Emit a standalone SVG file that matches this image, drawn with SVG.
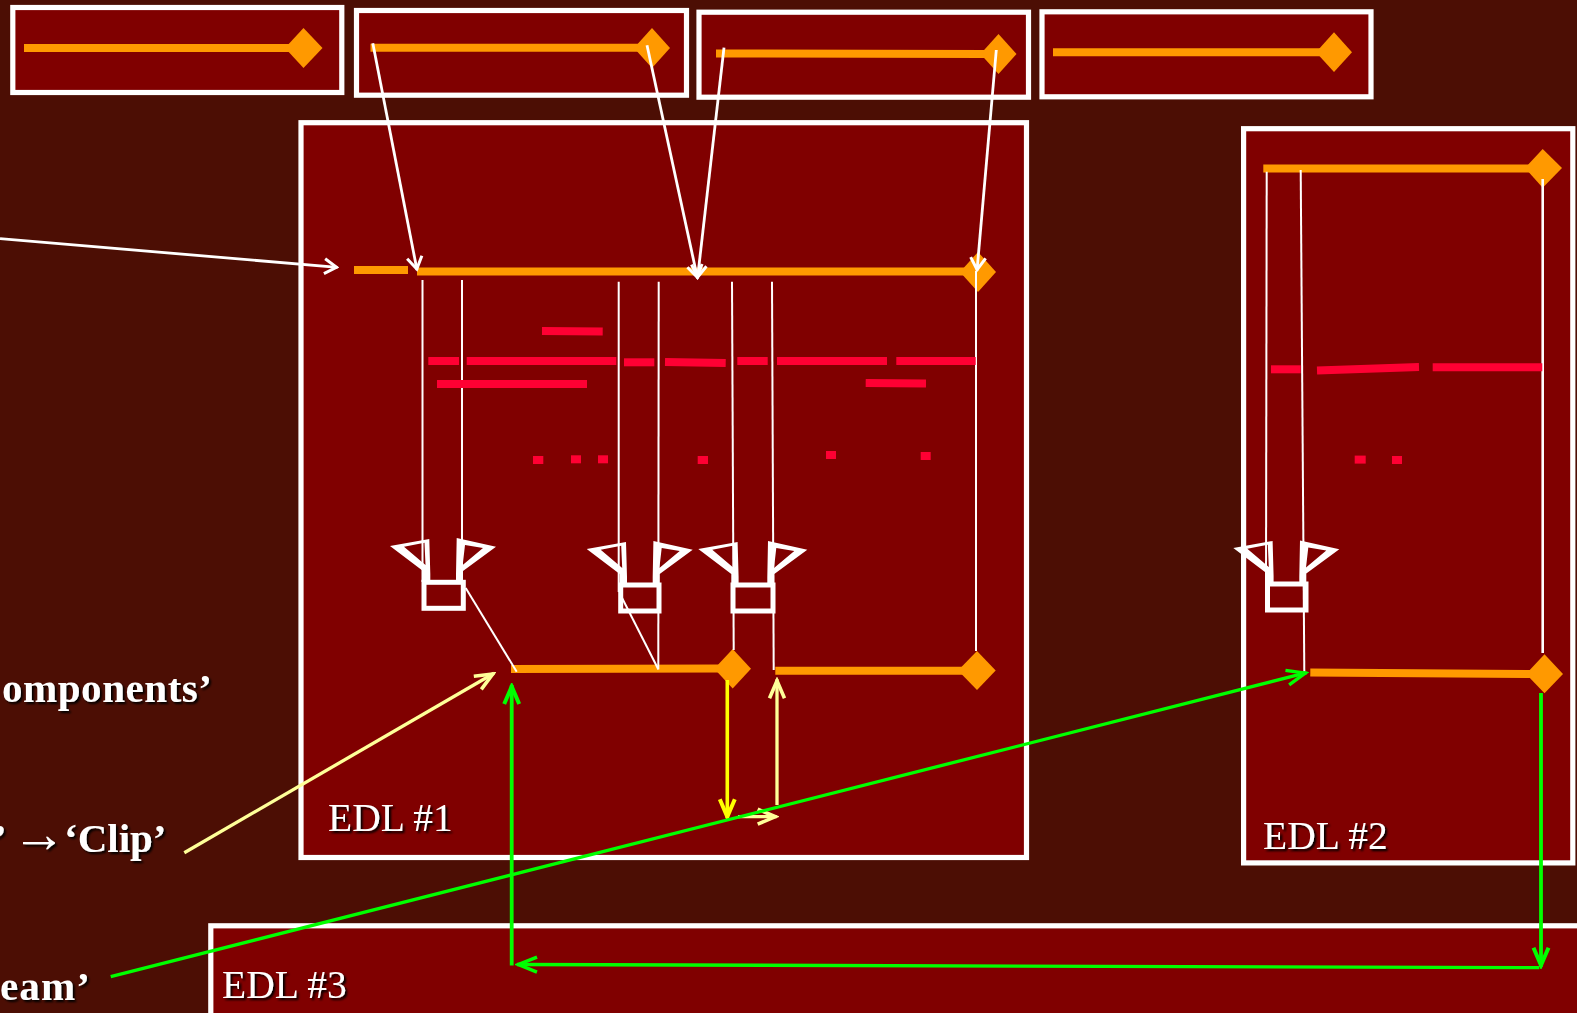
<svg xmlns="http://www.w3.org/2000/svg" width="1577" height="1013" viewBox="0 0 1577 1013">
<style>
.frame{fill:#800000;stroke:#fff;stroke-width:5.2}
.bar{fill:none;stroke:#f90;stroke-width:8}
.dia{fill:#f90}
.flag{fill:#fff;fill-rule:evenodd}
.box{fill:none;stroke:#fff;stroke-width:5}
.thin{fill:none;stroke:#fff;stroke-width:2}
.w{fill:none;stroke:#fff;stroke-width:2.8;marker-end:url(#mw)}
.g{fill:none;stroke:#0f0;stroke-width:3.8;marker-end:url(#mg)}
.gt{fill:none;stroke:#0f0;stroke-width:3.3;marker-end:url(#mg2)}
.y{fill:none;stroke:#ff0;stroke-width:3.6;marker-end:url(#my)}
.p{fill:none;stroke:#ff9;stroke-width:3.3;marker-end:url(#mp)}
.red{fill:none;stroke:#ff0033;stroke-width:8}
.sq{fill:#ff0033}
text{fill:#fff;font-family:"Liberation Serif","Times New Roman",serif;filter:url(#sh)}
.b{font-size:41px;font-weight:bold}
.l{font-size:39.5px}
</style>
<defs>
<filter id="sh" x="-10%" y="-20%" width="120%" height="140%"><feDropShadow dx="2" dy="2" stdDeviation="0.8" flood-color="#000" flood-opacity="1"/></filter>
<marker id="mw" viewBox="-16 -10 18 20" refX="0" refY="0" markerWidth="18" markerHeight="20" markerUnits="userSpaceOnUse" orient="auto"><path d="M-13,-7.5L-1,0L-13,7.5" fill="none" stroke="#fff" stroke-width="3"/></marker>
<marker id="mg" viewBox="-24 -12 26 24" refX="0" refY="0" markerWidth="26" markerHeight="24" markerUnits="userSpaceOnUse" orient="auto"><path d="M-19,-7.5L-1.5,0L-19,7.5" fill="none" stroke="#0f0" stroke-width="4"/></marker>
<marker id="mg2" viewBox="-24 -12 26 24" refX="0" refY="0" markerWidth="26" markerHeight="24" markerUnits="userSpaceOnUse" orient="auto"><path d="M-20,-7.5L-1.5,0L-20,7.5" fill="none" stroke="#0f0" stroke-width="3.4"/></marker>
<marker id="my" viewBox="-24 -12 26 24" refX="0" refY="0" markerWidth="26" markerHeight="24" markerUnits="userSpaceOnUse" orient="auto"><path d="M-19,-7.5L-1.5,0L-19,7.5" fill="none" stroke="#ff0" stroke-width="4"/></marker>
<marker id="mp" viewBox="-24 -12 26 24" refX="0" refY="0" markerWidth="26" markerHeight="24" markerUnits="userSpaceOnUse" orient="auto"><path d="M-19,-7.5L-1.5,0L-19,7.5" fill="none" stroke="#ff9" stroke-width="3.6"/></marker>
<path id="flag-left" class="flag" d="M390,546L429.3,539L430.3,574V582H423V571ZM404,546.7L424.5,542.7L425.5,565Z"/>
<path id="flag-right" class="flag" d="M496,546.7L456.7,538L456,574V582H463V571ZM483,548L465,545L462.7,565Z"/>
</defs>
<rect id="background" width="1577" height="1013" fill="#4c0e04"/>

<g id="clip-1"><rect class="frame" x="12.8" y="7.5" width="329" height="85"/><path class="bar" d="M24,48H290"/><path class="dia" d="M303.5,28L322.5,48L303.5,68L285,48Z"/></g>
<g id="clip-2"><rect class="frame" x="356.5" y="10.5" width="330" height="84.7"/><path class="bar" d="M370.5,47.7H640"/><path class="dia" d="M652,28L670,48L652,68L634,48Z"/></g>
<g id="clip-3"><rect class="frame" x="699" y="12.2" width="329.5" height="85"/><path class="bar" d="M716,53.4L985,54"/><path class="dia" d="M998.5,34L1016.5,54L998.5,74L980.5,54Z"/></g>
<g id="clip-4"><rect class="frame" x="1042" y="11.8" width="329" height="85"/><path class="bar" d="M1053,52.3H1320"/><path class="dia" d="M1334,32.3L1352,52.3L1334,72L1316,52.3Z"/></g>

<g id="edl-3"><rect class="frame" x="210.8" y="925.8" width="1400" height="200"/><text class="l" x="222" y="997.7">EDL #3</text></g>

<g id="edl-1"><rect class="frame" x="301" y="122.7" width="725.5" height="734.8"/>
<path class="bar" d="M354,270H408"/><path class="bar" d="M417,271.5H965"/><path class="dia" d="M978,252L996,272L978,292L960,272Z"/>
<path class="bar" d="M511,669L720,668.5"/><path class="dia" d="M732.7,649L751,668.7L732.7,688.4L714.3,668.7Z"/>
<path class="bar" d="M775.3,670.7H965"/><path class="dia" d="M977,651L995.7,670.5L977,690L958,670.5Z"/>
<text class="l" x="328" y="830.7">EDL #1</text></g>

<g id="edl-2"><rect class="frame" x="1243.6" y="128.7" width="329.2" height="734.2"/>
<path class="bar" d="M1263.3,168.5H1530"/><path class="dia" d="M1542.7,149L1562,168L1542.7,187.7L1525,168Z"/>
<path class="bar" d="M1310.3,672.5L1530,674"/><path class="dia" d="M1544.5,654.3L1563,674L1544.5,693.3L1526,674Z"/>
<text class="l" x="1263" y="849.3">EDL #2</text></g>

<g id="connectors">
<path class="thin" d="M422.5,280V582"/><path class="thin" d="M462,280V582"/>
<path class="thin" d="M465.7,588L516.7,671.7"/>
<path class="thin" d="M618.7,281.7V592"/><path class="thin" d="M658.7,281.7L658.3,669.5"/>
<path class="thin" d="M621.7,597.3L658.3,669.3"/>
<path class="thin" d="M732,281.7L733.7,650"/><path class="thin" d="M772,281.7L773.7,670"/>
<path class="thin" d="M976,271V651"/>
<path class="thin" d="M1266.7,171.7L1266,585"/><path class="thin" d="M1300.7,170L1304.3,671.7"/>
<path class="thin" style="stroke-width:2.6" d="M1542.7,179V653"/>
<path class="w" d="M0,238.7L337.5,267.3"/>
<path class="w" d="M372.8,43.3L417,270"/>
<path class="w" d="M647,45.3L697.5,278.3"/>
<path class="w" d="M724,47.7L697.5,278.3"/>
<path class="w" d="M996.3,50L977,270.7"/>
<path class="p" d="M184.3,852.7L494,673.3"/>
<path class="p" d="M777,805V679.3"/>
<path class="p" d="M738,816.7H776.7"/>
<path class="y" d="M727.3,680V818.3"/>
<path class="g" d="M1541,693V966.7"/>
<path class="gt" d="M1539.3,967.7L517,964.5"/>
<path class="g" d="M511.7,965.5V685"/>
<path class="gt" d="M110.7,976.7L1306.7,672.7"/>
</g>

<g id="funnel-1"><use href="#flag-left"/><use href="#flag-right"/><rect class="box" x="424" y="582.3" width="39.3" height="26"/></g>
<g id="funnel-2"><use href="#flag-left" x="196.7" y="3"/><use href="#flag-right" x="196.7" y="3"/><rect class="box" x="620.7" y="585" width="38.3" height="26"/></g>
<g id="funnel-3"><use href="#flag-left" x="308.3" y="3"/><use href="#flag-right" x="311.3" y="3"/><rect class="box" x="733" y="585" width="40" height="26"/></g>
<g id="funnel-4"><use href="#flag-left" x="843.3" y="2"/><use href="#flag-right" x="843.3" y="2.5"/><rect class="box" x="1267.5" y="584" width="38.5" height="26"/></g>

<g id="red-segments">
<path class="red" d="M542,331L602.7,331.4"/>
<path class="red" d="M428.3,361H459"/><path class="red" d="M466.7,361H616.3"/>
<path class="red" d="M624,362.3H654.3"/><path class="red" d="M665,362L725.7,363"/>
<path class="red" d="M737.3,361H767.7"/><path class="red" d="M777,361H887"/><path class="red" d="M896.3,361H975.7"/>
<path class="red" d="M437,384H587"/><path class="red" d="M865.7,383L926,383.4"/>
<path class="red" d="M1271,369.3H1300.7"/><path class="red" d="M1317,370.5L1419,367"/><path class="red" d="M1432.7,367.3H1542.3"/>
<rect class="sq" x="533" y="456" width="10.3" height="8"/><rect class="sq" x="571" y="455.3" width="10" height="8"/><rect class="sq" x="598" y="455.3" width="10" height="8"/><rect class="sq" x="697.7" y="456" width="10.3" height="8"/><rect class="sq" x="826" y="451" width="10" height="8"/><rect class="sq" x="920.7" y="452" width="10" height="8"/>
<rect class="sq" x="1354.7" y="455.6" width="11" height="8"/><rect class="sq" x="1392" y="456" width="10" height="8"/>
</g>

<g id="captions">
<text class="b" x="2" y="701.7" textLength="210" lengthAdjust="spacing">omponents’</text>
<text class="b" y="851.7"><tspan x="-7">’</tspan><tspan x="12" font-size="54" font-weight="normal">→</tspan><tspan x="64">‘Clip’</tspan></text>
<text class="b" x="0" y="1000" textLength="90" lengthAdjust="spacing">eam’</text>
</g>
</svg>
